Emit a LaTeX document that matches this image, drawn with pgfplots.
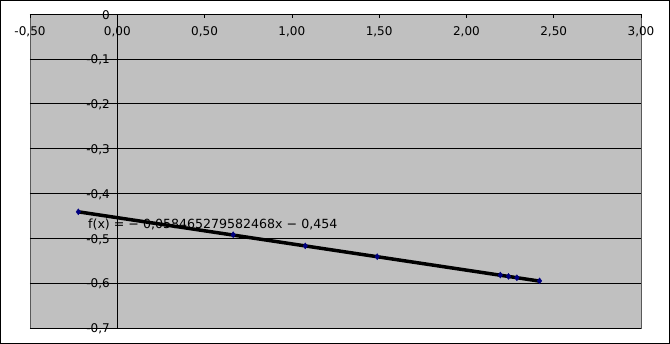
\documentclass[border=0pt]{standalone}
\usepackage{fontspec}
\setmainfont{DejaVu Sans}
\usepackage{pgfplots}
\pgfplotsset{compat=1.18}
\definecolor{plotbg}{HTML}{C0C0C0}
\definecolor{pts}{HTML}{000080}
\begin{document}
\begin{tikzpicture}
\useasboundingbox (0,0) rectangle (670pt,344pt);
\draw[black, line width=1pt] (0.5pt,0.5pt) rectangle (669.5pt,343.5pt);
\begin{axis}[
  at={(30pt,16pt)}, anchor=south west,
  scale only axis, width=611pt, height=314pt,
  xmin=-0.5, xmax=3, ymin=-0.7, ymax=0,
  axis lines=middle,
  axis line style={-, black, line width=0.8pt},
  axis background/.style={fill=plotbg, draw=gray!70!black},
  xtick={-0.5,0,0.5,1,1.5,2,2.5,3},
  ytick={-0.7,-0.6,-0.5,-0.4,-0.3,-0.2,-0.1,0},
  hide obscured x ticks=false, hide obscured y ticks=false,
  ymajorgrids, grid style={black, line width=0.6pt},
  major tick length=4pt,
  ytick style={draw=none},
  xtick style={black, line width=0.6pt, yshift=-2pt},
  /pgf/number format/assume math mode=true,
  tick label style={font=\fontsize{12}{14}\selectfont},
  x tick label style={/pgf/number format/fixed, /pgf/number format/fixed zerofill, /pgf/number format/precision=2, /pgf/number format/use comma, yshift=-7pt},
  y tick label style={/pgf/number format/fixed, /pgf/number format/precision=1, /pgf/number format/use comma, xshift=-2pt, yshift=-1pt},
  clip=false,
]
\addplot[only marks, mark=diamond*, mark size=3pt, color=pts] coordinates {
(-0.223,-0.441) (0.664,-0.492) (1.077,-0.517) (1.489,-0.541)
(2.194,-0.582) (2.241,-0.585) (2.289,-0.588) (2.419,-0.595)
};
\addplot[black, line width=3.5pt, no marks] coordinates {(-0.223,-0.441) (2.419,-0.5955)};
\node[anchor=west, inner sep=0pt, font=\fontsize{12.6}{14}\selectfont] at (axis cs:-0.168,-0.469) {f(x) = − 0,058465279582468x − 0,454};
\end{axis}
\end{tikzpicture}
\end{document}
